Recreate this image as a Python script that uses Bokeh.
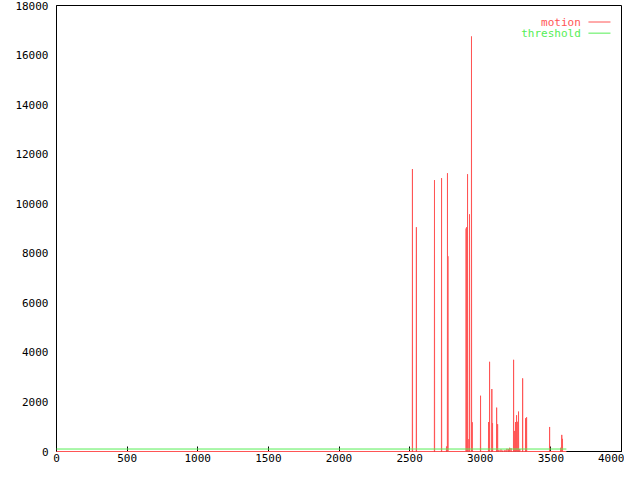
from bokeh.plotting import figure
from bokeh.models import Range1d, FixedTicker, Label
from bokeh.embed import file_html
from bokeh.resources import INLINE

# ---- data ----
spike_frames = [2520, 2548, 2676, 2726, 2761, 2768, 2771, 2900, 2904, 2910,
                2920, 2924, 2938, 2943, 3002, 3059, 3066, 3082, 3087, 3116,
                3123, 3132, 3147, 3160, 3175, 3189, 3200, 3208, 3218, 3236,
                3241, 3250, 3257, 3262, 3271, 3280, 3300, 3321, 3328, 3491,
                3570, 3577, 3582]
spike_values = [11400, 9050, 10950, 11030, 200, 11230, 7880, 9000, 9050, 11190,
                500, 9570, 16750, 1180, 2250, 1190, 3620, 2520, 1140, 1770,
                1100, 60, 80, 40, 60, 110, 90, 150, 130, 3700,
                830, 1190, 1460, 1200, 1610, 100, 2950, 1340, 1380, 990,
                150, 670, 510]
first_frame = 0
last_frame = 3610
threshold_value = 100

x_ticks = [0, 500, 1000, 1500, 2000, 2500, 3000, 3500, 4000]
y_ticks = [0, 2000, 4000, 6000, 8000, 10000, 12000, 14000, 16000, 18000]

# build the motion line: zero baseline with spikes
mx = [first_frame]
my = [0]
for f, v in zip(spike_frames, spike_values):
    mx += [f - 1, f, f + 1]
    my += [0, v, 0]
mx.append(last_frame)
my.append(0)

tx = [first_frame, last_frame]
ty = [threshold_value, threshold_value]

RED = "#ff5555"
GREEN = "#55ee55"
FONT = "DejaVu Sans Mono"

p = figure(width=624, height=464, output_backend="svg", toolbar_location=None,
           x_range=Range1d(0, 4000), y_range=Range1d(0, 18000),
           min_border_left=56, min_border_right=3, min_border_top=5,
           min_border_bottom=0)
p.background_fill_color = "white"
p.border_fill_color = "white"
p.outline_line_color = "black"
p.outline_line_width = 1
p.xgrid.visible = False
p.ygrid.visible = False

for ax in (p.xaxis[0], p.yaxis[0]):
    ax.axis_line_color = "black"
    ax.major_label_text_font = FONT
    ax.major_label_text_font_size = "11px"
    ax.major_label_text_color = "black"
    ax.minor_tick_line_color = None
    ax.major_tick_out = 0

p.xaxis[0].ticker = FixedTicker(ticks=x_ticks)
p.xaxis[0].major_tick_in = 5
p.xaxis[0].major_tick_line_color = "black"
p.xaxis[0].major_label_standoff = 2
p.yaxis[0].ticker = FixedTicker(ticks=y_ticks)
p.yaxis[0].major_tick_in = 0
p.yaxis[0].major_tick_line_color = None
p.yaxis[0].major_label_standoff = 8

r1 = p.line(mx, my, line_color=RED, line_width=1, level="overlay")
r2 = p.line(tx, ty, line_color=GREEN, line_width=1, level="overlay")

# legend (gnuplot style: text then sample line)
leg_y1 = 18000 * 0.963
leg_y2 = 18000 * 0.938
leg_text_x = 3712
leg_line_x0 = 3766
leg_line_x1 = 3922
p.add_layout(Label(x=leg_text_x, y=leg_y1, text="motion", text_align="right",
                   text_baseline="middle", text_font=FONT,
                   text_font_size="11px", text_color=RED))
p.add_layout(Label(x=leg_text_x, y=leg_y2, text="threshold", text_align="right",
                   text_baseline="middle", text_font=FONT,
                   text_font_size="11px", text_color=GREEN))
p.segment(x0=[leg_line_x0], y0=[leg_y1], x1=[leg_line_x1], y1=[leg_y1],
          line_color=RED, line_width=1)
p.segment(x0=[leg_line_x0], y0=[leg_y2], x1=[leg_line_x1], y1=[leg_y2],
          line_color=GREEN, line_width=1)

open("out.html", "w").write(file_html(p, INLINE))
